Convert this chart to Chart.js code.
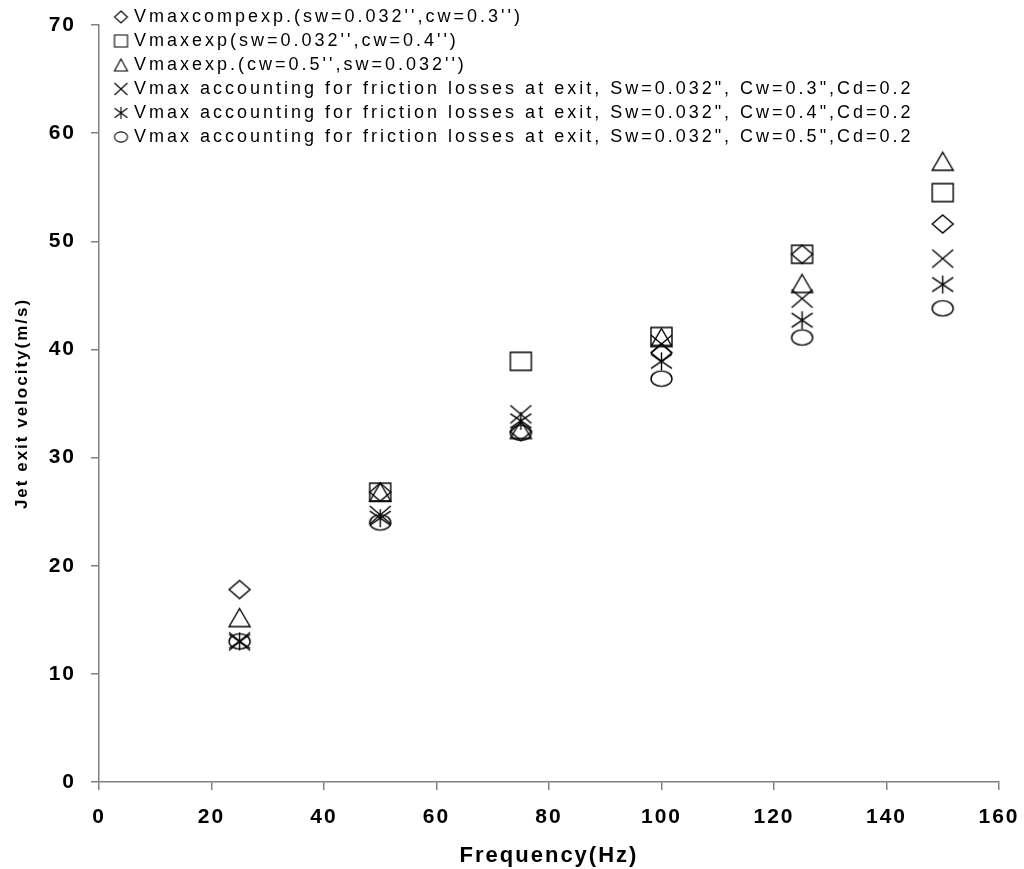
<!DOCTYPE html>
<html>
<head>
<meta charset="utf-8">
<script src="https://cdn.jsdelivr.net/npm/chart.js@4.4.0/dist/chart.umd.min.js"></script>
<style>
body { margin: 0; background: #fff; }
</style>
</head>
<body>
<canvas id="jetChart" width="1024" height="869"></canvas>
<script>
// frequencies (Hz) and jet exit velocities (m/s)
const freq = [25, 50, 75, 100, 125, 150];
const vCompCw03 = [17.8, 26.8, 32.4, 39.7, 48.8, 51.6];
const vExpCw04 = [null, 26.8, 38.9, 41.2, 48.8, 54.5];
const vExpCw05 = [15.2, 26.8, 32.6, 41.1, 46.1, 57.4];
const vFricCw03 = [13.0, 24.7, 34.0, 40.5, 44.7, 48.4];
const vFricCw04 = [13.0, 24.4, 33.4, 38.9, 42.7, 46.0];
const vFricCw05 = [13.0, 24.0, 32.3, 37.3, 41.1, 43.8];

const seriesLabels = [
	"Vmaxcompexp.(sw=0.032'',cw=0.3'')",
	"Vmaxexp(sw=0.032'',cw=0.4'')",
	"Vmaxexp.(cw=0.5'',sw=0.032'')",
	'Vmax accounting for friction losses at exit, Sw=0.032", Cw=0.3",Cd=0.2',
	'Vmax accounting for friction losses at exit, Sw=0.032", Cw=0.4",Cd=0.2',
	'Vmax accounting for friction losses at exit, Sw=0.032", Cw=0.5",Cd=0.2'
];
const seriesShapes = ['diamond', 'square', 'triangle', 'cross', 'asterisk', 'circle'];

const xTickValues = [0, 20, 40, 60, 80, 100, 120, 140, 160];
const yTickValues = [0, 10, 20, 30, 40, 50, 60, 70];

const FONT = '"Liberation Sans", Arial, sans-serif';

// open black marker drawn on a small canvas, used as pointStyle
function makeMarker(shape, w, h, lw) {
	const c = document.createElement('canvas');
	c.width = w + 4;
	c.height = h + 4;
	const g = c.getContext('2d');
	const cx = c.width / 2, cy = c.height / 2, rx = w / 2, ry = h / 2;
	g.strokeStyle = '#000';
	g.lineWidth = lw;
	g.beginPath();
	if (shape === 'diamond') {
		g.moveTo(cx, cy - ry); g.lineTo(cx + rx, cy); g.lineTo(cx, cy + ry); g.lineTo(cx - rx, cy); g.closePath();
	} else if (shape === 'square') {
		g.rect(cx - rx, cy - ry, w, h);
	} else if (shape === 'triangle') {
		g.moveTo(cx, cy - ry); g.lineTo(cx + rx, cy + ry); g.lineTo(cx - rx, cy + ry); g.closePath();
	} else if (shape === 'cross') {
		g.moveTo(cx - rx, cy - ry); g.lineTo(cx + rx, cy + ry);
		g.moveTo(cx + rx, cy - ry); g.lineTo(cx - rx, cy + ry);
	} else if (shape === 'asterisk') {
		g.moveTo(cx - rx, cy - ry * 0.8); g.lineTo(cx + rx, cy + ry * 0.8);
		g.moveTo(cx + rx, cy - ry * 0.8); g.lineTo(cx - rx, cy + ry * 0.8);
		g.moveTo(cx, cy - ry); g.lineTo(cx, cy + ry);
	} else {
		g.ellipse(cx, cy, rx, ry * 0.85, 0, 0, Math.PI * 2);
	}
	g.stroke();
	return c;
}

const plotIcons = seriesShapes.map(s => makeMarker(s, 21, 18, 1.4));
const legendIcons = seriesShapes.map(s => makeMarker(s, 13, 12, 1.1));

function toPoints(values) {
	return freq.map((f, i) => ({x: f, y: values[i]})).filter(p => p.y !== null);
}

const seriesValues = [vCompCw03, vExpCw04, vExpCw05, vFricCw03, vFricCw04, vFricCw05];

const spacedText = {
	id: 'spacedText',
	beforeDraw(chart) {
		chart.ctx.letterSpacing = '2px';
	},
	afterDraw(chart) {
		const ctx = chart.ctx;
		ctx.save();
		ctx.font = '18px ' + FONT;
		ctx.letterSpacing = '3px';
		ctx.fillStyle = '#000';
		ctx.textBaseline = 'middle';
		chart.data.datasets.forEach((ds, i) => {
			const y = 17 + i * 24;
			const icon = legendIcons[i];
			ctx.drawImage(icon, 121 - icon.width / 2, y - icon.height / 2);
			ctx.fillText(ds.label, 134, y);
		});
		ctx.restore();
	}
};

const axisColor = '#808080';

new Chart(document.getElementById('jetChart'), {
	type: 'scatter',
	data: {
		datasets: seriesValues.map((vals, i) => ({
			label: seriesLabels[i],
			data: toPoints(vals),
			pointStyle: plotIcons[i],
			pointRadius: 10,
			showLine: false
		}))
	},
	options: {
		responsive: false,
		animation: false,
		layout: {
			padding: {top: 25, right: 25, left: 0, bottom: 0}
		},
		scales: {
			x: {
				type: 'linear',
				min: 0,
				max: 160,
				afterBuildTicks: s => { s.ticks = xTickValues.map(v => ({value: v})); },
				afterFit: s => { s.height = 87; s.paddingLeft = 0; s.paddingRight = 0; },
				ticks: {
					color: '#000',
					padding: 15,
					font: {family: FONT, size: 21, weight: 'bold'}
				},
				grid: {
					drawOnChartArea: false,
					tickLength: 8,
					color: axisColor,
					lineWidth: 1.5
				},
				border: {color: axisColor, width: 1.5},
				title: {
					display: true,
					text: 'Frequency(Hz)',
					color: '#000',
					padding: {top: 0, bottom: 0},
					font: {family: FONT, size: 22, weight: 'bold'}
				}
			},
			y: {
				type: 'linear',
				min: 0,
				max: 70,
				afterBuildTicks: s => { s.ticks = yTickValues.map(v => ({value: v})); },
				afterFit: s => { s.width = 99; s.paddingTop = 0; s.paddingBottom = 0; },
				ticks: {
					color: '#000',
					padding: 15,
					font: {family: FONT, size: 21, weight: 'bold'}
				},
				grid: {
					drawOnChartArea: false,
					tickLength: 8,
					color: axisColor,
					lineWidth: 1.5
				},
				border: {color: axisColor, width: 1.5},
				title: {
					display: true,
					text: 'Jet exit velocity(m/s)',
					color: '#000',
					padding: {top: 12, bottom: 0},
					font: {family: FONT, size: 17, weight: 'bold'}
				}
			}
		},
		plugins: {
			legend: {display: false},
			tooltip: {enabled: false}
		}
	},
	plugins: [spacedText]
});
</script>
</body>
</html>
